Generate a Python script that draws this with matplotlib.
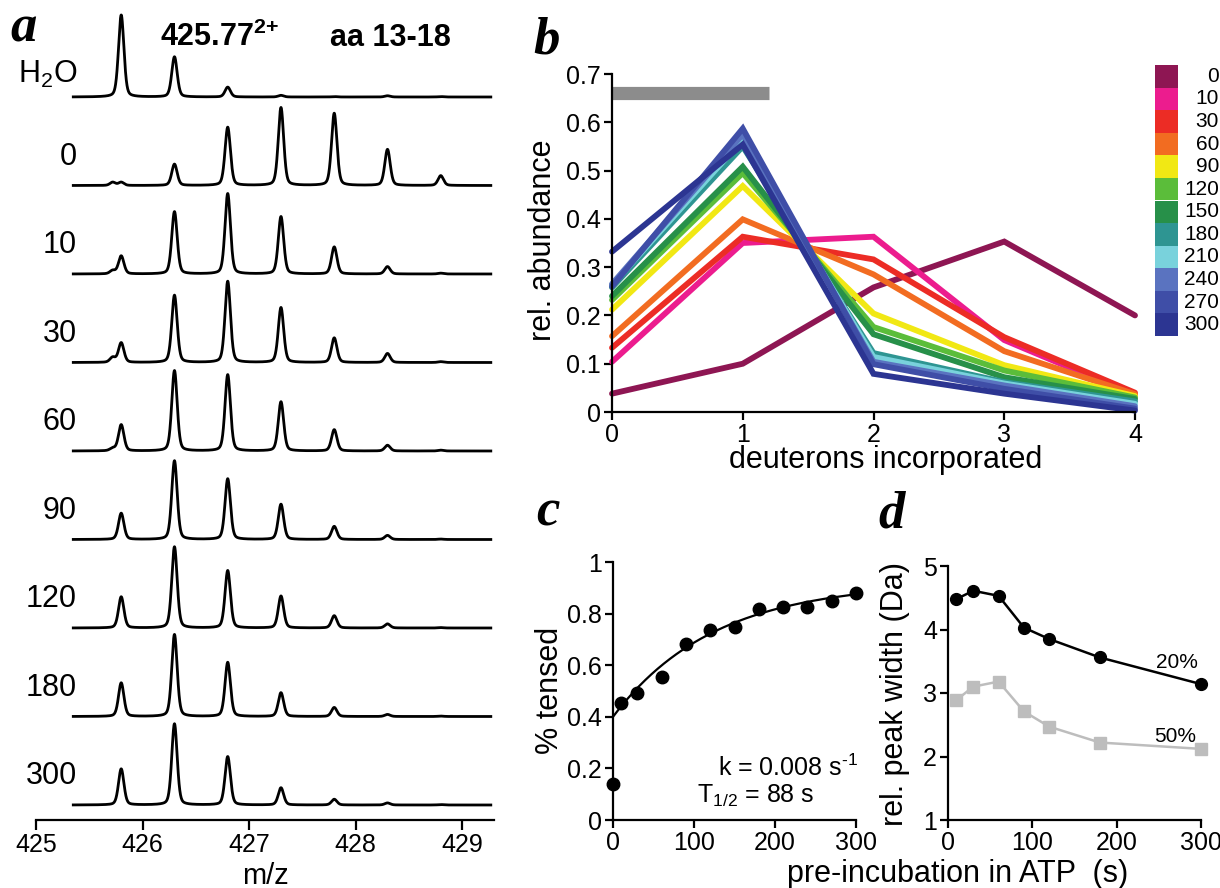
import numpy as np
import matplotlib
matplotlib.use("Agg")
from matplotlib import pyplot as plt

plt.rcParams['font.family'] = ['Liberation Sans', 'DejaVu Sans']
plt.rcParams['mathtext.fontset'] = 'custom'
plt.rcParams['mathtext.rm'] = 'Liberation Sans'
plt.rcParams['mathtext.it'] = 'Liberation Sans:italic'
plt.rcParams['mathtext.bf'] = 'Liberation Sans:bold'

# ---- panel a: isotope envelopes (relative intensity, %)
trace_labels = ['H$_\\mathregular{2}$O', '0', '10', '30', '60', '90', '120', '180', '300']
peak_mz = [425.8, 426.3, 426.8, 427.3, 427.8, 428.3, 428.8]
peak_int = [
    [100, 49, 12, 2, 0.5, 1.5, 0.5],
    [4, 26, 71, 95, 88, 44, 12],
    [22, 76, 98, 70, 33, 9, 1],
    [24, 82, 99, 67, 30, 11, 1],
    [32, 98, 93, 60, 26, 7, 1],
    [32, 96, 74, 43, 16, 5, 0.5],
    [38, 99, 70, 39, 15, 5, 0.5],
    [41, 100, 66, 29, 11, 2.5, 0.5],
    [44, 99, 59, 21, 7, 2.5, 0.5],
]
shoulder_mz = 425.72
shoulder_int = [0, 4, 4, 6, 3, 0, 0, 0, 0]
mz_ticks = [425, 426, 427, 428, 429]

# ---- panel b: deuteron distribution per pre-incubation time
deuterons = [0, 1, 2, 3, 4]
times = ['0', '10', '30', '60', '90', '120', '150', '180', '210', '240', '270', '300']
abund = [
    [0.038, 0.100, 0.258, 0.353, 0.200],
    [0.104, 0.350, 0.363, 0.149, 0.035],
    [0.133, 0.363, 0.316, 0.155, 0.040],
    [0.157, 0.399, 0.285, 0.126, 0.037],
    [0.212, 0.468, 0.204, 0.097, 0.033],
    [0.232, 0.495, 0.176, 0.086, 0.030],
    [0.240, 0.508, 0.161, 0.072, 0.027],
    [0.258, 0.550, 0.122, 0.062, 0.022],
    [0.263, 0.564, 0.114, 0.059, 0.017],
    [0.265, 0.575, 0.104, 0.055, 0.012],
    [0.260, 0.587, 0.099, 0.048, 0.007],
    [0.332, 0.554, 0.079, 0.038, 0.003],
]
colors = ['#8e1653', '#ec1c8e', '#ec2c25', '#f26c21', '#f1e814', '#5bbd3a',
          '#279049', '#2e9592', '#79d2dc', '#5a73c0', '#3f4ea7', '#2c3592']
bar_x = [0, 1.2]
bar_y = 0.66

# ---- panel c: fraction tensed
t_c = [0, 10, 30, 60, 90, 120, 150, 180, 210, 240, 270, 300]
tensed = [0.14, 0.455, 0.494, 0.555, 0.684, 0.735, 0.748, 0.817, 0.826, 0.826, 0.848, 0.881]
fit_A, fit_B, fit_k = 0.922, 0.522, 0.008

# ---- panel d: relative peak width
t_d = [10, 30, 60, 90, 120, 180, 300]
width20 = [4.48, 4.61, 4.53, 4.03, 3.85, 3.56, 3.14]
width50 = [2.89, 3.10, 3.18, 2.71, 2.47, 2.22, 2.12]

W, H = 1220, 888
fig = plt.figure(figsize=(W / 100, H / 100), dpi=100, facecolor='w')

def px(l, t, r, b):
    return [l / W, 1 - b / H, (r - l) / W, (b - t) / H]

def style(ax, fs=18):
    for s in ['top', 'right']:
        ax.spines[s].set_visible(False)
    for s in ['left', 'bottom']:
        ax.spines[s].set_linewidth(1.6)
    ax.tick_params(direction='out', length=6, width=1.6, labelsize=fs, pad=2)

# panel a
axa = fig.add_axes(px(36, 0, 494, 820))
unit = 100 / 82.0
axa.set_xlim(425, 429.3)
axa.set_ylim(-(820 - 97) * unit, 97 * unit)
step = 88.5 * unit
mz = np.linspace(425.35, 429.27, 3000)
fwhm = 0.06
for i, lab in enumerate(trace_labels):
    y = np.zeros_like(mz)
    cs = peak_mz + [shoulder_mz]
    hs = peak_int[i] + [shoulder_int[i]]
    for c, h in zip(cs, hs):
        d = (mz - c) / fwhm
        y += h * (0.7 * np.exp(-4 * np.log(2) * d ** 2) + 0.3 / (1 + 4 * d ** 2))
    off = -i * step
    axa.plot(mz, y + off, color='k', lw=2.0)
    axa.text(425.385, off + (27 if i == 0 else 35), lab, ha='right', va='center', fontsize=22)
axa.spines['left'].set_visible(False)
style(axa)
axa.spines['bottom'].set_bounds(425, 429.3)
axa.set_yticks([])
axa.set_xticks(mz_ticks)
axa.tick_params(length=7)
fig.text(265 / W, 1 - 876 / H, 'm/z', ha='center', va='center', fontsize=21)
fig.text(160 / W, 1 - 46 / H, '425.77$^{\\mathbf{2{+}}}$', fontsize=22, fontweight='bold')
fig.text(330 / W, 1 - 46 / H, 'aa 13-18', fontsize=22, fontweight='bold')

# panel b
axb = fig.add_axes(px(612, 74, 1135, 412))
axb.plot(bar_x, [bar_y, bar_y], color='#8c8c8c', lw=9.5, solid_capstyle='butt', clip_on=False)
for vals, col in zip(abund, colors):
    axb.plot(deuterons, vals, color=col, lw=4.2, solid_joinstyle='miter',
             solid_capstyle='round', clip_on=False)
axb.set_xlim(0, 4)
axb.set_ylim(0, 0.7)
axb.set_xticks(deuterons)
yt = [0, 0.1, 0.2, 0.3, 0.4, 0.5, 0.6, 0.7]
axb.set_yticks(yt)
axb.set_yticklabels(['0'] + ['%.1f' % v for v in yt[1:]])
style(axb)
fig.text(886 / W, 1 - 460 / H, 'deuterons incorporated', ha='center', va='center', fontsize=22)
fig.text(543 / W, 1 - 240 / H, 'rel. abundance', ha='center', va='center', rotation=90, fontsize=22)

# colour key
axk = fig.add_axes(px(1155, 65, 1220, 336))
axk.set_xlim(0, 65)
axk.set_ylim(len(times), 0)
for i, (lab, col) in enumerate(zip(times, colors)):
    axk.bar(11.5, 1, width=23, bottom=i, color=col, align='center')
    axk.text(64, i + 0.5, lab, ha='right', va='center', fontsize=15)
axk.axis('off')

# panel c
axc = fig.add_axes(px(613, 562, 856, 820))
tt = np.linspace(0, 305, 200)
axc.plot(tt, fit_A - fit_B * np.exp(-fit_k * tt), color='k', lw=1.6, clip_on=False)
axc.plot(t_c, tensed, 'o', color='k', ms=9, clip_on=False)
axc.set_xlim(0, 300)
axc.set_ylim(0, 1)
axc.set_xticks([0, 100, 200, 300])
axc.set_yticks([0, 0.2, 0.4, 0.6, 0.8, 1])
axc.set_yticklabels(['0', '0.2', '0.4', '0.6', '0.8', '1'])
style(axc)
axc.spines['bottom'].set_bounds(0, 300)
fig.text(718 / W, 1 - 768 / H, 'k = 0.008 s$^{\\text{-1}}$', va='center', fontsize=18)
fig.text(697 / W, 1 - 796 / H, 'T$_{\\mathregular{1/2}}$ = 88 s', va='center', fontsize=18)
fig.text(550 / W, 1 - 690 / H, '% tensed', ha='center', va='center', rotation=90, fontsize=22)

# panel d
axd = fig.add_axes(px(948, 566, 1201, 820))
axd.plot(t_d, width50, '-s', color='#bdbdbd', lw=1.8, ms=9, clip_on=False)
axd.plot(t_d, width20, '-o', color='k', lw=1.8, ms=8.5, clip_on=False)
axd.set_xlim(0, 300)
axd.set_ylim(1, 5)
axd.set_xticks([0, 100, 200, 300])
axd.set_yticks([1, 2, 3, 4, 5])
style(axd)
axd.text(1177 / W, 1 - 662 / H, '20%', transform=fig.transFigure, ha='center', va='center', fontsize=15)
axd.text(1175 / W, 1 - 736 / H, '50%', transform=fig.transFigure, ha='center', va='center', fontsize=15)
fig.text(895 / W, 1 - 694 / H, 'rel. peak width (Da)', ha='center', va='center', rotation=90, fontsize=22)
fig.text(958 / W, 1 - 874 / H, 'pre-incubation in ATP  (s)', ha='center', va='center', fontsize=22)

# panel letters
for x, y, s in [(10, 42, 'a'), (533, 53, 'b'), (536, 526, 'c'), (878, 527, 'd')]:
    fig.text(x / W, 1 - y / H, s, fontsize=38, fontweight='bold', style='italic',
             family='Liberation Serif')

fig.savefig('out.png', dpi=100)
